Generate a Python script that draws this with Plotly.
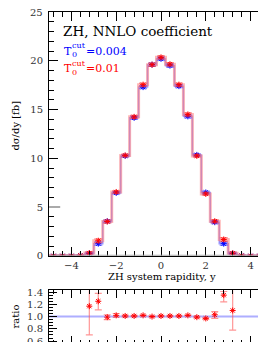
import plotly.graph_objects as go

# ---------------- data ----------------
centers = [-4.8, -4.4, -4.0, -3.6, -3.2, -2.8, -2.4, -2.0, -1.6, -1.2, -0.8, -0.4, 0.0,
           0.4, 0.8, 1.2, 1.6, 2.0, 2.4, 2.8, 3.2, 3.6, 4.0, 4.4, 4.8]
bin_width = 0.4

blue_vals = [0.0, 0.0, 0.0, 0.05, 0.25, 1.25, 3.55, 6.45, 10.25, 14.15, 17.3, 19.6, 20.2,
             19.5, 17.4, 14.3, 10.35, 6.5, 3.45, 1.25, 0.25, 0.03, 0.0, 0.0, 0.0]
blue_errs = [0.05, 0.05, 0.05, 0.05, 0.1, 0.15, 0.12, 0.12, 0.12, 0.15, 0.15, 0.15, 0.15,
             0.15, 0.15, 0.15, 0.12, 0.12, 0.12, 0.15, 0.1, 0.05, 0.05, 0.05, 0.05]

red_vals = [0.0, 0.0, 0.0, 0.05, 0.29, 1.55, 3.52, 6.55, 10.3, 14.25, 17.55, 19.6, 20.35,
            19.65, 17.55, 14.5, 10.25, 6.35, 3.55, 1.68, 0.27, 0.03, 0.0, 0.0, 0.0]
red_errs = [0.05, 0.05, 0.05, 0.05, 0.12, 0.17, 0.14, 0.12, 0.12, 0.15, 0.15, 0.15, 0.15,
            0.15, 0.15, 0.15, 0.12, 0.12, 0.14, 0.17, 0.12, 0.05, 0.05, 0.05, 0.05]

ratio_vals = [None, None, None, None, 1.17, 1.25, 0.99, 1.02, 1.01, 1.01, 1.02, 1.00, 1.01,
              1.01, 1.01, 1.02, 0.99, 0.97, 1.03, 1.35, 1.10, None, None, None, None]
ratio_up = [0, 0, 0, 0, 0.30, 0.13, 0.04, 0.03, 0.015, 0.01, 0.01, 0.01, 0.01,
            0.01, 0.01, 0.01, 0.015, 0.015, 0.05, 0.06, 0.40, 0, 0, 0, 0]
ratio_dn = [0, 0, 0, 0, 0.47, 0.14, 0.04, 0.03, 0.015, 0.01, 0.01, 0.01, 0.01,
            0.01, 0.01, 0.01, 0.015, 0.015, 0.06, 0.11, 0.32, 0, 0, 0, 0]

title_text = "ZH, NNLO coefficient"
blue_label = "=0.004"
red_label = "=0.01"
x_title = "ZH system rapidity, y"
y_title = "dσ/dy [fb]"
ratio_title = "ratio"
top_tick_label = "25"

# ---------------- helpers ----------------
W, H = 266, 342
ML, MR, MT, MB = 41, 1, 3, 0
PW, PH = W - ML - MR, H - MT - MB


def px(x):
    return (x - ML) / PW


def py(y):
    return (H - MB - y) / PH


def steps(vals):
    xs, ys = [], []
    for c, v in zip(centers, vals):
        xs += [c - bin_width / 2, c + bin_width / 2]
        ys += [v, v]
    return xs, ys


FONT = "DejaVu Serif"
BLUE_LINE = "rgba(120,120,255,0.75)"
RED_LINE = "rgba(255,120,120,0.55)"
BLUE_ERR = "rgba(90,90,255,0.65)"
RED_ERR = "rgba(255,80,80,0.6)"
TICK_COL = "#333"

fig = go.Figure()

bx, by = steps(blue_vals)
rx, ry = steps(red_vals)
fig.add_trace(go.Scatter(x=bx, y=by, mode="lines", line=dict(color=BLUE_LINE, width=1.5),
                         xaxis="x", yaxis="y", hoverinfo="skip"))
fig.add_trace(go.Scatter(x=rx, y=ry, mode="lines", line=dict(color=RED_LINE, width=3),
                         xaxis="x", yaxis="y", hoverinfo="skip"))
fig.add_trace(go.Scatter(x=centers, y=blue_vals, mode="markers",
                         marker=dict(symbol="asterisk-open", size=5, color="blue",
                                     line=dict(color="blue", width=1)),
                         error_y=dict(type="data", array=blue_errs, color=BLUE_ERR,
                                      thickness=1.5, width=4),
                         xaxis="x", yaxis="y"))
fig.add_trace(go.Scatter(x=centers, y=red_vals, mode="markers",
                         marker=dict(symbol="asterisk-open", size=5, color="red",
                                     line=dict(color="red", width=1)),
                         error_y=dict(type="data", array=red_errs, color=RED_ERR,
                                      thickness=1.5, width=4),
                         xaxis="x", yaxis="y"))

# ratio panel
fig.add_trace(go.Scatter(x=centers, y=ratio_vals, mode="markers",
                         marker=dict(symbol="asterisk-open", size=5, color="red",
                                     line=dict(color="red", width=1)),
                         error_y=dict(type="data", symmetric=False, array=ratio_up,
                                      arrayminus=ratio_dn, color=RED_ERR,
                                      thickness=1.2, width=3.5),
                         xaxis="x2", yaxis="y2"))

axis_common = dict(ticks="inside", showline=True, linecolor="black", linewidth=1,
                   mirror="allticks", tickcolor="black", showgrid=False, zeroline=False,
                   tickfont=dict(family=FONT, size=10, color=TICK_COL))

fig.update_layout(
    width=W, height=H,
    margin=dict(l=ML, r=MR, t=MT, b=MB),
    paper_bgcolor="white", plot_bgcolor="white",
    showlegend=False,
    xaxis=dict(axis_common, range=[-5, 5], dtick=2, tick0=0, ticklen=9,
               minor=dict(dtick=0.4, tick0=0, ticklen=4.5, ticks="inside", tickcolor="black"),
               anchor="y", domain=[0, 1]),
    yaxis=dict(axis_common, range=[0, 25], dtick=5, ticklen=9,
               minor=dict(dtick=1, ticklen=4.5, ticks="inside", tickcolor="black"),
               domain=[py(252), 1], anchor="x", ticklabelstandoff=3),
    xaxis2=dict(axis_common, range=[-5, 5], dtick=2, tick0=0, ticklen=8,
                minor=dict(dtick=0.4, tick0=0, ticklen=4, ticks="inside", tickcolor="black"),
                anchor="y2", showticklabels=False, domain=[0, 1]),
    yaxis2=dict(axis_common, range=[1 - 28 / 62.5, 1 + 27 / 62.5], dtick=0.2, tick0=0,
                tickformat=".1f", ticklen=8,
                minor=dict(dtick=0.05, ticklen=4, ticks="inside", tickcolor="black"),
                domain=[0, py(287)], anchor="x2", ticklabelstandoff=3),
)

# reference line at ratio 1 and grey accents
fig.add_shape(type="line", xref="x2 domain", yref="y2", x0=0, x1=1, y0=1, y1=1,
              line=dict(color="rgba(120,120,255,0.6)", width=2), layer="below")
fig.add_shape(type="line", xref="x domain", yref="y", x0=0, x1=1, y0=0, y1=0,
              line=dict(color="#aaaaaa", width=2), layer="above")
for a, b in [(0, 0.05), (0.95, 1)]:
    fig.add_shape(type="line", xref="x domain", yref="y", x0=a, x1=b, y0=5, y1=5,
                  line=dict(color="#aaaaaa", width=2), layer="above")


def txt(text, x, y, size, color="black", anchor="left", angle=0):
    fig.add_annotation(text=text, x=px(x), y=py(y), xref="paper", yref="paper",
                       xanchor=anchor, yanchor="middle", showarrow=False, textangle=angle,
                       font=dict(family=FONT, size=size, color=color))


txt(title_text, 53, 22, 13.5)
for lab, yc, col in [(blue_label, 43, "blue"), (red_label, 61, "red")]:
    txt("T", 54, yc, 11, col)
    txt("cut", 61.5, yc - 5.5, 8, col)
    txt("0", 61.5, yc + 3.5, 8, col)
    txt(lab, 76, yc, 11, col)

txt(top_tick_label, 37, 4, 10, TICK_COL, anchor="right")
txt(x_title, 154, 273, 10, anchor="center")
txt(y_title, 8, 119, 10, anchor="center", angle=-90)
txt(ratio_title, 8, 314, 10, anchor="center", angle=-90)

fig.write_html("out.html")
